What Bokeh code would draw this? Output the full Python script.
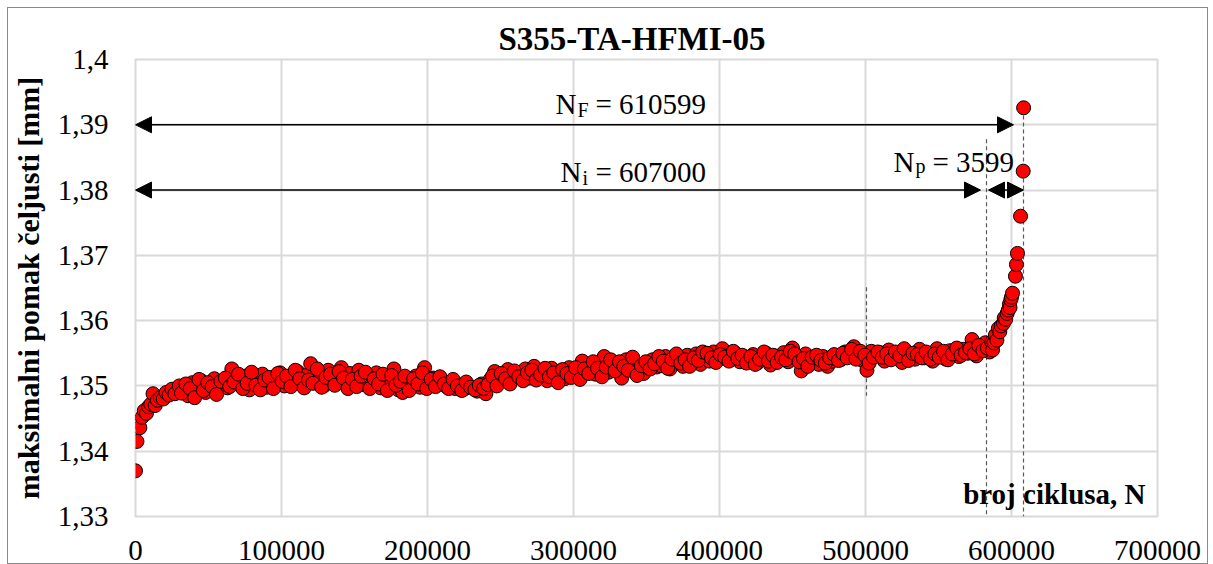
from bokeh.plotting import figure
from bokeh.models import (FixedTicker, CustomJSTickFormatter, NumeralTickFormatter,
                          Arrow, NormalHead, Label, ColumnDataSource)
from bokeh.embed import file_html
from bokeh.resources import INLINE

# ---------------- data ----------------
cycles_early = [0, 1000, 2000, 3000, 4500, 6000, 7500, 9000, 10500, 12000,
                13500, 15000, 17000, 19000, 21000, 23000, 25000, 27000]
disp_early = [1.3370, 1.3415, 1.3445, 1.3436, 1.3452, 1.3462, 1.3458, 1.3468, 1.3472, 1.3488,
              1.3470, 1.3478, 1.3482, 1.3480, 1.3490, 1.3486, 1.3495, 1.3488]

cycles_mid = [
    30000, 33000, 36000, 39000, 42000, 45000, 48000, 51000, 54000, 57000,
    60000, 63000, 66000, 69000, 72000, 75000, 78000, 81000, 84000, 87000,
    90000, 93000, 96000, 99000, 102000, 105000, 108000, 111000, 114000, 117000,
    120000, 123000, 126000, 129000, 132000, 135000, 138000, 141000, 144000, 147000,
    150000, 153000, 156000, 159000, 162000, 165000, 168000, 171000, 174000, 177000,
    180000, 183000, 186000, 189000, 192000, 195000, 198000, 201000, 204000, 207000,
    210000, 213000, 216000, 219000, 222000, 225000, 228000, 231000, 234000, 237000,
    240000, 243000, 246000, 249000, 252000, 255000, 258000, 261000, 264000, 267000,
    270000, 273000, 276000, 279000, 282000, 285000, 288000, 291000, 294000, 297000,
    300000, 303000, 306000, 309000, 312000, 315000, 318000, 321000, 324000, 327000,
    330000, 333000, 336000, 339000, 342000, 345000, 348000, 351000, 354000, 357000,
    360000, 363000, 366000, 369000, 372000, 375000, 378000, 381000, 384000, 387000,
    390000, 393000, 396000, 399000, 402000, 405000, 408000, 411000, 414000, 417000,
    420000, 423000, 426000, 429000, 432000, 435000, 438000, 441000, 444000, 447000,
    450000, 453000, 456000, 459000, 462000, 465000, 468000, 471000, 474000, 477000,
    480000, 483000, 486000, 489000, 492000, 495000, 498000, 501000, 504000, 507000,
    510000, 513000, 516000, 519000, 522000, 525000, 528000, 531000, 534000, 537000,
    540000, 543000, 546000, 549000, 552000, 555000, 558000, 561000, 564000, 567000,
    570000, 573000, 576000, 579000, 582000, 585000]
disp_mid = [
    1.3500, 1.3492, 1.3485, 1.3505, 1.3498, 1.3508, 1.3490, 1.3502, 1.3511, 1.3496,
    1.3505, 1.3497, 1.3526, 1.3508, 1.3500, 1.3515, 1.3494, 1.3510, 1.3503, 1.3518,
    1.3498, 1.3512, 1.3505, 1.3520, 1.3500, 1.3514, 1.3508, 1.3522, 1.3502, 1.3516,
    1.3534, 1.3510, 1.3518, 1.3500, 1.3524, 1.3507, 1.3515, 1.3528, 1.3505, 1.3519,
    1.3510, 1.3524, 1.3502, 1.3517, 1.3508, 1.3520, 1.3497, 1.3512, 1.3505, 1.3526,
    1.3494, 1.3490, 1.3508, 1.3500, 1.3515, 1.3498, 1.3528, 1.3504, 1.3512, 1.3502,
    1.3508, 1.3499, 1.3504, 1.3496, 1.3501, 1.3495, 1.3500, 1.3497, 1.3492, 1.3503,
    1.3488, 1.3510, 1.3522, 1.3506, 1.3517, 1.3525, 1.3509, 1.3520, 1.3513, 1.3526,
    1.3512, 1.3530, 1.3518, 1.3522, 1.3508, 1.3527, 1.3516, 1.3523, 1.3511, 1.3528,
    1.3520, 1.3515, 1.3538, 1.3524, 1.3530, 1.3518, 1.3533, 1.3545, 1.3521, 1.3536,
    1.3527, 1.3512, 1.3540, 1.3528, 1.3535, 1.3522, 1.3519, 1.3533, 1.3540, 1.3529,
    1.3531, 1.3545, 1.3526, 1.3538, 1.3542, 1.3530, 1.3547, 1.3536, 1.3549, 1.3533,
    1.3544, 1.3538, 1.3552, 1.3540, 1.3557, 1.3546, 1.3541, 1.3550, 1.3537, 1.3545,
    1.3539, 1.3548, 1.3535, 1.3543, 1.3550, 1.3532, 1.3546, 1.3540, 1.3551, 1.3537,
    1.3558, 1.3544, 1.3523, 1.3549, 1.3536, 1.3541, 1.3533, 1.3545, 1.3530, 1.3538,
    1.3546, 1.3540, 1.3552, 1.3545, 1.3560, 1.3548, 1.3539, 1.3524, 1.3553, 1.3547,
    1.3551, 1.3538, 1.3555, 1.3542, 1.3549, 1.3536, 1.3553, 1.3545, 1.3541, 1.3556,
    1.3543, 1.3550, 1.3538, 1.3557, 1.3546, 1.3541, 1.3554, 1.3548, 1.3545, 1.3556,
    1.3550, 1.3571, 1.3546, 1.3560, 1.3566, 1.3552]

cycles_mid2 = [
    31500, 34500, 37500, 40500, 43500, 46500, 49500, 52500, 55500, 58500,
    61500, 64500, 67500, 70500, 73500, 76500, 79500, 82500, 85500, 88500,
    91500, 94500, 97500, 100500, 103500, 106500, 109500, 112500, 115500, 118500,
    121500, 124500, 127500, 130500, 133500, 136500, 139500, 142500, 145500, 148500,
    151500, 154500, 157500, 160500, 163500, 166500, 169500, 172500, 175500, 178500,
    181500, 184500, 187500, 190500, 193500, 196500, 199500, 202500, 205500, 208500,
    211500, 214500, 217500, 220500, 223500, 226500, 229500, 232500, 235500, 238500,
    241500, 244500, 247500, 250500, 253500, 256500, 259500, 262500, 265500, 268500,
    271500, 274500, 277500, 280500, 283500, 286500, 289500, 292500, 295500, 298500,
    301500, 304500, 307500, 310500, 313500, 316500, 319500, 322500, 325500, 328500,
    331500, 334500, 337500, 340500, 343500, 346500, 349500, 352500, 355500, 358500,
    361500, 364500, 367500, 370500, 373500, 376500, 379500, 382500, 385500, 388500,
    391500, 394500, 397500, 400500, 403500, 406500, 409500, 412500, 415500, 418500,
    421500, 424500, 427500, 430500, 433500, 436500, 439500, 442500, 445500, 448500,
    451500, 454500, 457500, 460500, 463500, 466500, 469500, 472500, 475500, 478500,
    481500, 484500, 487500, 490500, 493500, 496500, 499500, 502500, 505500, 508500,
    511500, 514500, 517500, 520500, 523500, 526500, 529500, 532500, 535500, 538500,
    541500, 544500, 547500, 550500, 553500, 556500, 559500, 562500, 565500, 568500,
    571500, 574500, 577500, 580500, 583500, 586500]
disp_mid2 = [
    1.3489, 1.3503, 1.3496, 1.3482, 1.3510, 1.3493, 1.3505, 1.3499, 1.3487, 1.3507,
    1.3512, 1.3499, 1.3506, 1.3518, 1.3496, 1.3504, 1.3521, 1.3501, 1.3494, 1.3509,
    1.3513, 1.3496, 1.3519, 1.3507, 1.3515, 1.3499, 1.3524, 1.3511, 1.3497, 1.3509,
    1.3504, 1.3526, 1.3498, 1.3513, 1.3518, 1.3501, 1.3522, 1.3512, 1.3496, 1.3510,
    1.3499, 1.3515, 1.3521, 1.3496, 1.3511, 1.3503, 1.3518, 1.3493, 1.3516, 1.3501,
    1.3507, 1.3515, 1.3493, 1.3511, 1.3503, 1.3520, 1.3496, 1.3510, 1.3499, 1.3514,
    1.3503, 1.3496, 1.3510, 1.3500, 1.3493, 1.3506, 1.3498, 1.3494, 1.3501, 1.3496,
    1.3502, 1.3515, 1.3500, 1.3519, 1.3511, 1.3503, 1.3523, 1.3514, 1.3508, 1.3520,
    1.3524, 1.3509, 1.3517, 1.3527, 1.3514, 1.3520, 1.3505, 1.3525, 1.3519, 1.3513,
    1.3528, 1.3510, 1.3526, 1.3519, 1.3537, 1.3527, 1.3514, 1.3529, 1.3540, 1.3523,
    1.3537, 1.3530, 1.3524, 1.3544, 1.3516, 1.3531, 1.3537, 1.3526, 1.3534, 1.3545,
    1.3538, 1.3527, 1.3541, 1.3549, 1.3535, 1.3540, 1.3530, 1.3543, 1.3539, 1.3552,
    1.3550, 1.3543, 1.3536, 1.3548, 1.3544, 1.3538, 1.3553, 1.3542, 1.3547, 1.3535,
    1.3545, 1.3533, 1.3541, 1.3552, 1.3538, 1.3547, 1.3536, 1.3544, 1.3540, 1.3553,
    1.3549, 1.3537, 1.3542, 1.3530, 1.3544, 1.3547, 1.3539, 1.3535, 1.3543, 1.3548,
    1.3539, 1.3550, 1.3543, 1.3556, 1.3541, 1.3553, 1.3547, 1.3535, 1.3544, 1.3552,
    1.3544, 1.3549, 1.3540, 1.3552, 1.3546, 1.3557, 1.3539, 1.3550, 1.3548, 1.3543,
    1.3552, 1.3541, 1.3549, 1.3544, 1.3553, 1.3540, 1.3549, 1.3558, 1.3547, 1.3551,
    1.3557, 1.3549, 1.3562, 1.3554, 1.3558, 1.3567]

cycles_end = [587000, 588000, 589000, 590000, 591000, 592000, 593000, 594500, 595000,
              596000, 597000, 597800, 598600, 599000, 599500, 600000, 600700,
              602700, 603400, 604100, 606200, 608000, 608300]
disp_end = [1.3555, 1.3566, 1.3578, 1.3570, 1.3588, 1.3583, 1.3592, 1.3596, 1.3604,
            1.3602, 1.3611, 1.3616, 1.3625, 1.3620, 1.3632, 1.3636, 1.3642,
            1.3668, 1.3686, 1.3703, 1.3760, 1.3829, 1.3926]

x_ticks = [0, 100000, 200000, 300000, 400000, 500000, 600000, 700000]
y_ticks = [1.33, 1.34, 1.35, 1.36, 1.37, 1.38, 1.39, 1.40]

title_text = "S355-TA-HFMI-05"
y_label = "maksimalni pomak čeljusti [mm]"
x_label = "broj ciklusa, N"

cycles = cycles_early + cycles_mid + cycles_mid2 + cycles_end
disp = disp_early + disp_mid + disp_mid2 + disp_end

FONT = "Liberation Serif"

# ---------------- figure ----------------
p = figure(width=1201, height=557, x_range=(0, 700000), y_range=(1.33, 1.40),
           output_backend="svg", toolbar_location=None,
           min_border_left=125, min_border_right=52, min_border_top=51, min_border_bottom=49)
p.styles = {"border": "1px solid #8a8a8a", "box-sizing": "border-box",
            "margin": "7px 0 0 7px"}
p.background_fill_color = "white"
p.border_fill_color = "white"
p.outline_line_color = "#d9d9d9"
p.outline_line_width = 2

p.title.text = title_text
p.title.text_font = FONT
p.title.text_font_size = "33px"
p.title.text_font_style = "bold"
p.title.text_color = "black"
p.title.align = "left"
p.title.offset = 363
p.title.standoff = 6

p.xaxis.ticker = FixedTicker(ticks=x_ticks)
p.yaxis.ticker = FixedTicker(ticks=y_ticks)
p.xaxis.formatter = NumeralTickFormatter(format="0")
p.yaxis.formatter = CustomJSTickFormatter(
    code="return tick.toFixed(2).replace(/0$/, '').replace('.', ',');")

for ax in (p.xaxis[0], p.yaxis[0]):
    ax.axis_line_color = None
    ax.major_tick_line_color = None
    ax.minor_tick_line_color = None
    ax.major_label_text_font = FONT
    ax.major_label_text_font_size = "29px"
    ax.major_label_text_color = "black"

p.xaxis.major_label_standoff = 18
p.yaxis.major_label_standoff = 21

p.yaxis.axis_label = y_label
p.yaxis.axis_label_text_font = FONT
p.yaxis.axis_label_text_font_size = "30px"
p.yaxis.axis_label_text_font_style = "bold"
p.yaxis.axis_label_text_color = "black"
p.yaxis.axis_label_standoff = 10

p.xgrid.grid_line_color = "#d9d9d9"
p.ygrid.grid_line_color = "#d9d9d9"
p.xgrid.grid_line_width = 2
p.ygrid.grid_line_width = 2

# dashed guide lines
dash_src = ColumnDataSource(dict(x0=[582877, 608219, 500685],
                                 y0=[1.3878, 1.3925, 1.3651],
                                 x1=[582877, 608219, 500685],
                                 y1=[1.33, 1.33, 1.3485]))
p.segment(x0="x0", y0="y0", x1="x1", y1="y1", source=dash_src,
          line_color="#595959", line_width=1.2, line_dash="4 3")

# data points
src = ColumnDataSource(dict(x=cycles, y=disp))
p.scatter("x", "y", source=src, size=14, fill_color="#ff0000",
          line_color="black", line_width=1)

# arrows
def head():
    return NormalHead(size=16, fill_color="black", line_color="black", line_width=1)

for xs, xe, yy in [(0, 601370, 1.39), (0, 578767, 1.38), (584247, 608219, 1.38)]:
    p.add_layout(Arrow(start=head(), end=head(), x_start=xs, y_start=yy,
                       x_end=xe, y_end=yy, line_color="black", line_width=1.5))

# labels
def lab(x, y, text, size="29px", style="normal", align="left", xo=0, yo=0):
    p.add_layout(Label(x=x, y=y, text=text, text_font=FONT, text_font_size=size,
                       text_font_style=style, text_align=align, text_color="black",
                       text_baseline="alphabetic", x_offset=xo, y_offset=yo))

# N_F = 610599
lab(287671, 1.39324, "N")
lab(287671, 1.39324, "F", size="20px", xo=22, yo=-6)
lab(287671, 1.39324, "= 610599", xo=40)

# N_i = 607000
lab(291096, 1.38278, "N")
lab(291096, 1.38278, "i", size="20px", xo=22, yo=-6)
lab(291096, 1.38278, "= 607000", xo=35)

# N_p = 3599
lab(519178, 1.38432, "N")
lab(519178, 1.38432, "p", size="20px", xo=22, yo=-4)
lab(519178, 1.38432, "= 3599", xo=39)

lab(691781, 1.3334, x_label, style="bold", align="right")

open("out.html", "w").write(file_html(p, INLINE))
